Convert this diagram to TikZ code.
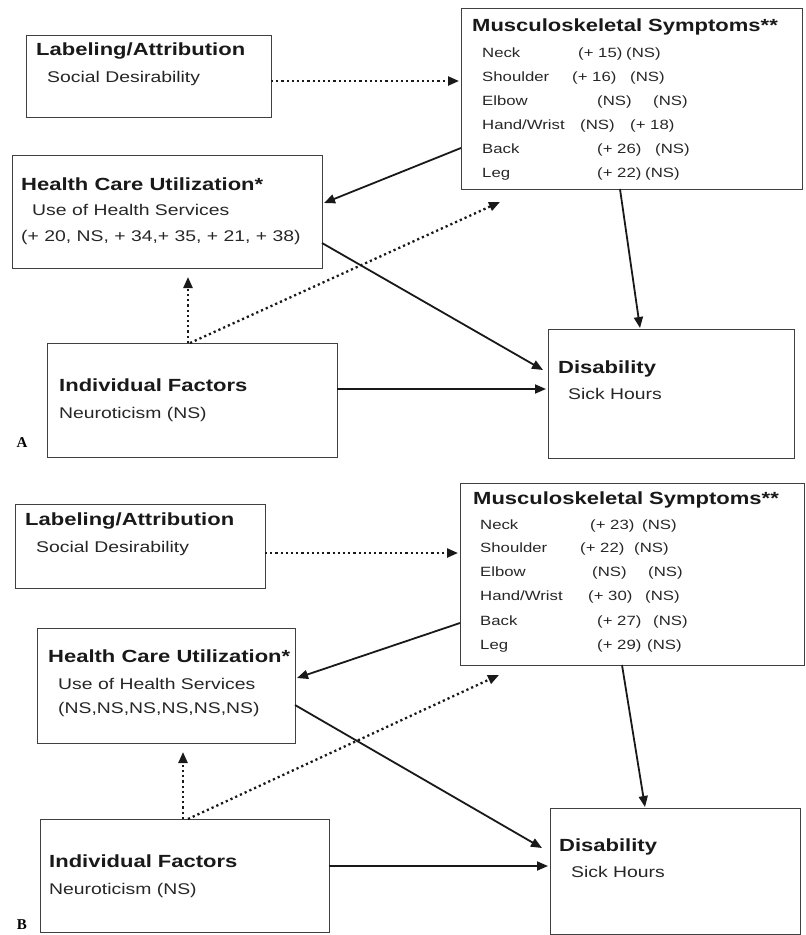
\documentclass[tikz,border=0pt]{standalone}
\usepackage{fontspec}
\setmainfont[FakeStretch=1.25]{Liberation Sans}
\newfontfamily\panelfont{Liberation Serif}
\usetikzlibrary{arrows.meta,calc}

\begin{document}
\begin{tikzpicture}[x=1pt,y=-1pt,
  box/.style={draw=black!75, line width=1pt, inner sep=0pt, outer sep=0pt, anchor=north west},
  ttl/.style={anchor=mid west, inner sep=0pt, text=black!90, font=\fontsize{17.6}{20}\selectfont\bfseries},
  sub/.style={anchor=mid west, inner sep=0pt, text=black!85, font=\fontsize{15.5}{18}\selectfont},
  row/.style={anchor=mid west, inner sep=0pt, text=black!85, font=\fontsize{13.4}{16}\selectfont},
  tag/.style={inner sep=0pt, font=\panelfont\bfseries\fontsize{15}{15}\selectfont},
  link/.style={line width=1.8pt, draw=black!90, -{Triangle[length=11pt,width=9pt]}},
  weak/.style={link, line width=2.3pt, dash pattern=on 2.2pt off 3pt}]
\useasboundingbox (0,0) rectangle (806,935);

% ---------------- Panel A ----------------
\node[box, minimum width=245, minimum height=82]  (labA) at (26,35) {};
\node[box, minimum width=310, minimum height=113] (hcA)  at (12,155) {};
\node[box, minimum width=341, minimum height=181] (mskA) at (461,8) {};
\node[box, minimum width=290, minimum height=114] (indA) at (47,343) {};
\node[box, minimum width=246, minimum height=129] (disA) at (548,329) {};

\node[ttl] (labAt) at (36,53) {Labeling/Attribution};
\node[sub] (labAs) at (47,80) {Social Desirability};

\node[ttl] (hcAt) at (21,188) {Health Care Utilization*};
\node[sub] (hcAs) at (32,213) {Use of Health Services};
\node[sub] (hcAv) at (21,239) {(+ 20, NS, + 34,+ 35, + 21, + 38)};

\node[ttl] (mskAt) at (472,29) {Musculoskeletal Symptoms**};
\foreach \lab/\yy/\ca/\xa/\cb/\xb [count=\i] in
  {Neck/55/(+ 15)/578/(NS)/626,
   Shoulder/79/(+ 16)/572/(NS)/630,
   Elbow/103/(NS)/597/(NS)/653,
   {Hand/Wrist}/127/(NS)/580/(+ 18)/630,
   Back/151/(+ 26)/597/(NS)/655,
   Leg/175/(+ 22)/597/(NS)/645}{
  \node[row] (mskAr\i)  at (482,\yy) {\lab};
  \node[row] (mskAa\i)  at (\xa,\yy) {\ca};
  \node[row] (mskAb\i)  at (\xb,\yy) {\cb};
}

\node[ttl] (indAt) at (59,389) {Individual Factors};
\node[sub] (indAs) at (59,416) {Neuroticism (NS)};

\node[ttl] (disAt) at (558,371) {Disability};
\node[sub] (disAs) at (568,397) {Sick Hours};

\node[tag] (tagA) at (22,443) {A};

% connectors, panel A
\draw[weak] ($(labA.north east)+(0,46)$) -- ($(mskA.north west)+(-2,73)$);
\draw[link] ($(mskA.north west)+(0,140)$) -- ($(hcA.north east)+(2,48)$);
\draw[link] ($(hcA.north east)+(0,88)$) -- ($(disA.north west)+(-5,41)$);
\draw[link] ($(indA.north east)+(0,46)$) -- ($(disA.north west)+(-2,60)$);
\draw[weak] ($(indA.north west)+(141,0)$) -- ($(hcA.south west)+(176,9)$);
\draw[weak] ($(indA.north west)+(143,0)$) -- ($(mskA.south west)+(39,13)$);
\draw[link] ($(mskA.south west)+(159,0)$) -- ($(disA.north west)+(92,-1)$);

% ---------------- Panel B ----------------
\node[box, minimum width=250, minimum height=84]  (labB) at (15,504) {};
\node[box, minimum width=258, minimum height=115] (hcB)  at (37,628) {};
\node[box, minimum width=344, minimum height=182] (mskB) at (460,483) {};
\node[box, minimum width=289, minimum height=113] (indB) at (40,819) {};
\node[box, minimum width=250, minimum height=126] (disB) at (550,808) {};

\node[ttl] (labBt) at (25,523) {Labeling/Attribution};
\node[sub] (labBs) at (36,550) {Social Desirability};

\node[ttl] (hcBt) at (48,660) {Health Care Utilization*};
\node[sub] (hcBs) at (58,687) {Use of Health Services};
\node[sub] (hcBv) at (58,711) {(NS,NS,NS,NS,NS,NS)};

\node[ttl] (mskBt) at (473,502) {Musculoskeletal Symptoms**};
\foreach \lab/\yy/\ca/\xa/\cb/\xb [count=\i] in
  {Neck/527/(+ 23)/590/(NS)/642,
   Shoulder/550/(+ 22)/580/(NS)/634,
   Elbow/574/(NS)/592/(NS)/648,
   {Hand/Wrist}/598/(+ 30)/588/(NS)/645,
   Back/623/(+ 27)/597/(NS)/653,
   Leg/647/(+ 29)/597/(NS)/647}{
  \node[row] (mskBr\i)  at (480,\yy) {\lab};
  \node[row] (mskBa\i)  at (\xa,\yy) {\ca};
  \node[row] (mskBb\i)  at (\xb,\yy) {\cb};
}

\node[ttl] (indBt) at (49,865) {Individual Factors};
\node[sub] (indBs) at (49,892) {Neuroticism (NS)};

\node[ttl] (disBt) at (559,849) {Disability};
\node[sub] (disBs) at (571,875) {Sick Hours};

\node[tag] (tagB) at (22,925) {B};

% connectors, panel B
\draw[weak] ($(labB.north east)+(0,49)$) -- ($(mskB.north west)+(-2,70)$);
\draw[link] ($(mskB.north west)+(0,140)$) -- ($(hcB.north east)+(2,50)$);
\draw[link] ($(hcB.north east)+(0,77)$) -- ($(disB.north west)+(-8,40)$);
\draw[link] ($(indB.north east)+(0,47)$) -- ($(disB.north west)+(-2,58)$);
\draw[weak] ($(indB.north west)+(143,0)$) -- ($(hcB.south west)+(146,9)$);
\draw[weak] ($(indB.north west)+(148,0)$) -- ($(mskB.south west)+(39,10)$);
\draw[link] ($(mskB.south west)+(162,0)$) -- ($(disB.north west)+(95,-1)$);
\end{tikzpicture}
\end{document}
